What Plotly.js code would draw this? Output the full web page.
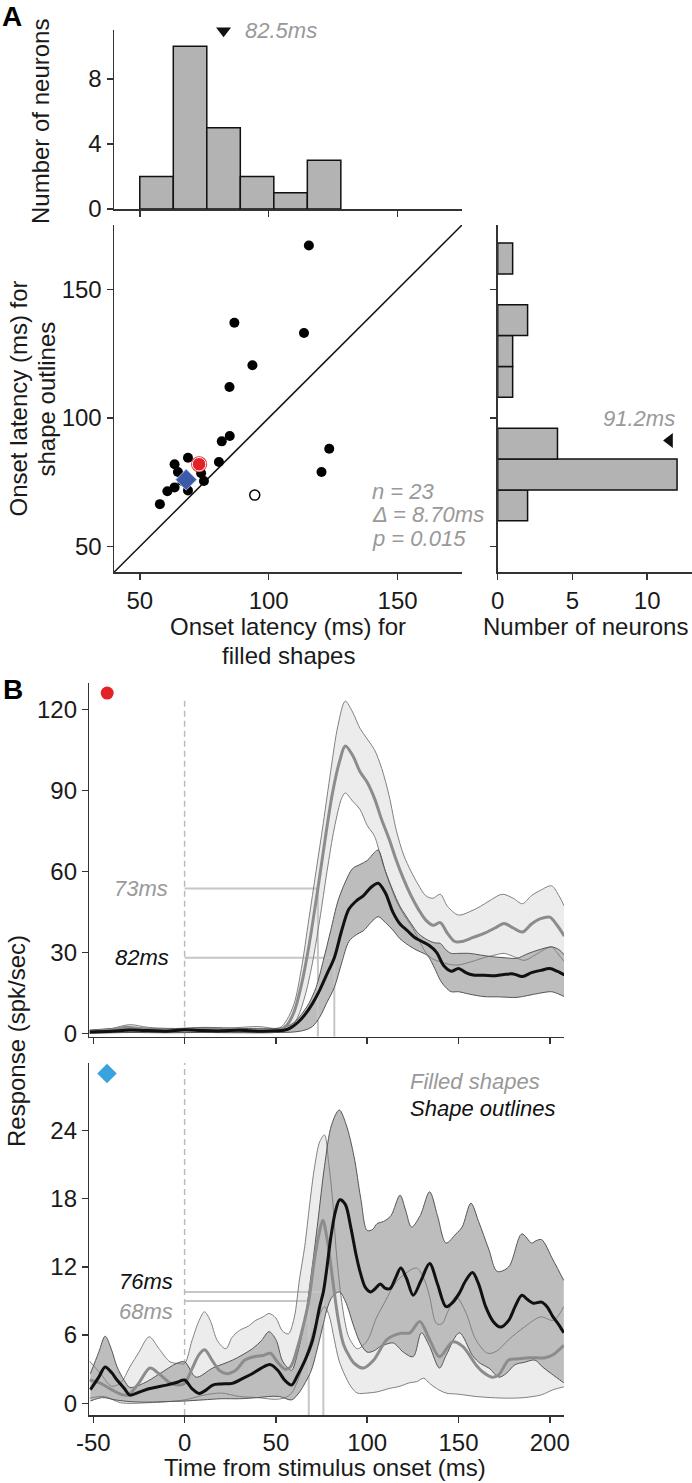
<!DOCTYPE html>
<html><head><meta charset="utf-8">
<script src="https://cdn.plot.ly/plotly-3.0.1.min.js"></script>
<style>html,body{margin:0;padding:0;background:#fff}#chart{width:692px;height:1483px}</style>
</head><body><div id="chart"></div>
<script>
// ---------------- Panel A data ----------------
const filledBinCenters = [56.5, 69.5, 82.5, 95.5, 108.5, 121.5];
const filledBinCounts = [2, 10, 5, 2, 1, 3];
const filledBinWidth = 13;
const outlineBinCenters = [66, 78, 90, 102, 114, 126, 138, 150, 162];
const outlineBinCounts = [2, 12, 4, 0, 1, 1, 2, 0, 1];
const outlineBinWidth = 12;
const filledMedian = 82.5;
const outlineMedian = 91.2;
const latFilled = [115.6, 86.7, 113.7, 93.7, 84.8, 84.9, 81.8, 123.5, 120.5, 80.7, 68.7, 63.5, 64.8, 74.9, 68.7, 63.5, 60.7, 57.8, 73.8, 66.5];
const latOutline = [167, 137, 133, 120.5, 112, 93, 90.9, 88, 79, 82.9, 84.5, 82, 79, 75.5, 71.8, 73, 71.5, 66.5, 78.5, 75.5];
const redNeuron = [73, 82];
const blueNeuron = [68, 76];
const openNeuron = [94.6, 70];
const statLines = ['n = 23', '\u0394 = 8.70ms', 'p = 0.015'];

// ---------------- Panel B data (top: red neuron) ----------------
const fmTopX = [-52,-40,-32,-25,-15,-5,5,15,25,35,45,52,56,60,64,68,73,77,81,85,88,92,96,100,104,108,112,116,120,124,128,132,136,140,144,148,152,158,164,170,175,180,185,190,195,200,204,208];
const fmTopY = [0.5,1.2,2.2,1.8,1.2,1.0,1.5,1.2,1.5,1.0,0.8,1.2,3,8,18,32,53.6,72,89,101,106.4,103,97,93,87,79,72,64,57,51,46,42,40,41,37,34,34,35.5,37,39,40.7,39,37.5,40.5,42.5,43,40,36];
const fuTopX = [-52,-40,-30,-20,-5,10,25,40,52,56,60,64,68,72,76,80,84,88,92,96,100,104,108,112,116,120,124,128,132,136,140,144,150,156,162,168,174,180,185,190,195,201,205,208];
const fuTopY = [1.0,1.8,3.2,2.2,1.8,2.2,2.0,2.5,2.0,5,11,24,42,60,78,97,114,123,119,113,109,105,98,88,75,66,60,55,51,50,51.5,47,43.8,45,47,49.5,51.5,50,48,51,53,54.6,51,47];
const flTopX = [-52,-30,-10,10,30,52,58,62,66,70,74,78,82,86,88,92,96,100,104,108,112,116,120,124,128,132,136,140,145,150,157,164,170,175,180,186,192,197,201,205,208];
const flTopY = [0.2,0.5,0.3,0.5,0.3,0.5,2,6,14,26,42,60,76,87,89,86,83,77,73,64,56,49,44,40,35,30,27.5,26.5,25.5,25.3,26.5,28,29,29.6,28.5,27,29,31,32,29,26.5];
const omTopX = [-52,-40,-30,-20,-10,0,10,20,30,40,50,55,58,62,66,70,74,78,82,86,90,94,98,102,106,110,114,118,122,126,130,134,138,142,146,150,154,158,164,170,175,180,185,190,195,200,204,208];
const omTopY = [0.5,0.8,1.2,1.0,0.8,1.3,1.0,0.9,1.1,0.8,0.9,1.2,2,4,7,11,16,22,28,38,46,49,51,54,55.6,52,45,40.5,38,35.5,34,32.5,30,25,23,24,22.5,21.6,21.5,21.3,21.8,22,21,22.5,23.3,24,23,21.6];
const ouTopX = [-52,-30,-10,10,30,50,56,60,64,68,72,76,80,84,88,92,96,100,104,106,110,114,118,124,128,133,137,140,143,146,150,156,162,168,175,182,188,194,201,205,208];
const ouTopY = [1.2,2.0,1.6,2.0,1.8,1.8,2.5,4,7,11,17,27,38,49,56,61,62.5,64,67,67.9,60,53,47,40.7,37,34.6,33.5,33.3,31,29.6,29.6,29.6,29,28.4,28,27.8,29.5,30.9,32,31,29];
const olTopX = [-52,-30,-10,10,30,50,60,66,70,74,78,82,86,90,94,98,102,106,110,114,118,124,128,133,137,140,143,146,150,156,164,172,182,188,194,201,205,208];
const olTopY = [0.0,0.3,0.2,0.3,0.2,0.3,0.5,1.2,2.5,6,11.5,17,26,34,36.5,38,41,43.2,41,38.3,35,32,30.5,28.8,24,19.7,17,15.4,15.4,14.5,13.6,13.5,13.3,14,14.8,15.4,14.5,13.6];

// ---------------- Panel B data (bottom: blue neuron) ----------------
const fmBotX = [-52,-46,-40,-35,-31,-25,-19,-14,-8,-3,0,4,8,11,15,19,23,28,33,38,43,47,51,55,58,62,66,68,71,73.5,75.7,78,81,84,87,90,93,98,103.6,110.8,118,123.4,128.8,134.2,139.6,146.8,152.3,159.5,163,168.5,172,177.5,182,188.3,193,197.3,202,207.7];
const fmBotY = [2.05,1.75,1.2,0.8,0.72,1.8,3.1,2.6,1.8,1.6,1.75,3,4.3,4.7,3.8,2.9,2.6,2.9,3.8,4.1,4.2,4.4,3.6,3,3.2,5,7.5,9,12.5,14.8,16.1,14.5,11,7.5,5.2,4.2,3.5,3.1,3.8,5.6,6.15,6.2,7.2,5.6,4.1,5.4,5,3.4,2.8,2.3,2.5,3.8,3.9,4,4,4,4.3,5.1];
const fuBotX = [-52,-46,-40,-35,-30,-25,-19.4,-14,-8,-3,0,4,8,10.9,14,18,22.6,26,30,35,39,43,46.2,50,53.4,56.8,60,63,65.8,68.5,71.2,74,76.6,79,81,83,85.6,88,90,94.6,100,105,110,115,120,127,131,134,138,141,144,148.6,154,159.5,166,171,177.5,186,195,202,207.7];
const fuBotY = [3.7,2.6,1.5,1.8,3.2,4.5,5.85,4.8,3.65,3.5,3.5,5.5,7.3,8.05,7.3,5.5,4.8,5.8,6.4,6.8,7.3,7.6,7.9,7.5,6.4,6.1,7.5,11,13.8,17.5,20.8,23,23.6,21,18,13.5,9.5,7,5.8,4.8,5.5,7.5,9,10.5,11.3,11.9,11,9.5,7,7,8,9.4,8,5.6,4.4,4.6,5.6,6.7,7.6,7.3,8.5];
const flBotX = [-52,-44,-35,-20,0,10,20,30,40,50,55,58.6,62,65.8,69,71.2,74,76.6,79,82,84.5,87.4,91,94.6,100,105.4,112,118,123,127,131,134.2,138,143.2,150,159.5,168,177.5,186,195.5,202,207.7];
const flBotY = [0.45,0.6,0.05,0.05,0.3,0.7,0.9,0.6,0.5,0.35,0.5,0.9,2,3.8,5.5,6.7,7.8,8.5,7.8,5.6,3.8,2.6,1.5,0.9,0.9,1.0,1.3,1.5,1.8,1.9,2.2,1.75,1.3,0.9,0.8,0.6,0.5,0.45,0.5,0.75,1.2,1.45];
const omBotX = [-51.6,-47,-43.5,-40,-37,-33,-30,-24.5,-19,-10,-4,0,4,8,12,15.4,20,26,32,37,42,47,51,55,58.6,62,66,70,74,76,78,80,82.5,85,88,91,94,96.4,99,101.8,104.5,107.2,110,112.6,115.5,118.4,121.5,125.2,129.5,134.2,138.5,143.2,147,150.5,154,157.7,161,164.9,169,173,177.5,181,184.7,188,191,195.5,198.5,201.8,205,207.7];
const omBotY = [1.2,2.3,3.2,2.7,2.05,1.3,0.72,1.0,1.3,1.6,1.85,2.05,1.3,0.87,1.2,1.6,1.7,1.75,2.2,2.6,3.1,3.4,2.9,2.0,1.6,2.5,3.8,5.5,8.5,9.8,12,14.5,16.8,17.9,17.5,15.5,13,11.4,10.2,9.8,10.1,10.5,10.1,10.1,11,11.9,11,9.5,10.8,12.3,10.5,8.5,8.9,9.7,10.8,11.5,10.5,8.5,7.2,6.7,7.3,8.5,9.5,9.1,8.8,8.9,8.5,7.6,6.9,6.2];
const ouBotX = [-51.6,-47,-43.5,-40,-37,-33,-30,-22.6,-13.6,-4.5,0,6.3,15.4,26.3,37.1,42,46.2,50,53.4,56,58.6,62,66,69.4,73,76.6,80.5,84.7,88.5,92.8,96.5,100,103,105.4,109,113,118,121,124.3,129,134.2,138.5,143.2,148.6,152,156.8,161,166.7,171.2,177.5,184.7,190.1,192.5,195.5,201.8,207.7];
const ouBotY = [2.6,4.5,5.9,4.7,3.2,2.0,1.4,1.75,2.6,3.5,3.65,2.3,3.1,3.8,4.8,5.5,6.3,5.6,3.8,3.2,2.9,4.5,7.5,11.4,16,20.8,24.5,25.8,24.5,21.7,18,15.2,15.3,15.8,16,16.5,18.3,17,15.5,16.5,18.6,16.5,14.1,14.9,15.5,17.6,16,13.5,11.6,12,14.9,14.1,14.3,14.4,12.6,10.8];
const olBotX = [-51.6,-45,-38,-30,-20,-10,0,10,20,30,40,46,52,58.6,63,66,69.4,73,76,78.4,81,84.7,88,92.8,96.5,100,103.5,107.2,110.5,114.4,119.8,125.2,129.7,134.2,139.6,143.2,150.5,157.7,162,166.7,172.1,176,181,186,191.9,196,200.9,207.7];
const olBotY = [0.2,0.5,0.3,0.15,0.1,0.15,0.2,0.3,0.4,0.4,0.5,0.6,0.6,0.3,1.0,1.8,2.9,5,7,8.5,9.4,9.8,9.0,6.7,5.2,4.5,4.6,5,5.2,5.3,4.5,4.1,6.2,5,3.1,4.2,6.2,4.2,3.5,3.1,2.3,2.6,3.4,3.6,3.8,3.2,2.6,1.8];

// onset latencies [red neuron, blue neuron] and criterion response levels
const onsetFilled = [73, 68];
const onsetOutline = [82, 76];
const critFilled = [53.6, 9.0];
const critOutline = [28, 9.8];

const timeTicks = [-50, 0, 50, 100, 150, 200];
const timeTickText = ['-50', '0', '50', '100', '150', '200'];

// ---------------- styling / helpers ----------------
const FF = 'Liberation Sans, Arial, Helvetica, sans-serif';
const W = 692, H = 1483;
const px = v => v / W, py = v => 1 - v / H;
const LIGHT_FILL = '#ececec', DARK_FILL = '#bdbdbd';
const LIGHT_EDGE = '#808080', DARK_EDGE = '#555555';

function ln(xa, ya, x, y, color, width, extra) {
  return Object.assign({type: 'scatter', mode: 'lines', x: x, y: y, xaxis: xa, yaxis: ya,
    line: {color: color, width: width, shape: 'spline', smoothing: 0.9},
    hoverinfo: 'skip', showlegend: false}, extra || {});
}
function band(xa, ya, lx, ly, ux, uy, fill) {
  return [
    ln(xa, ya, lx, ly, 'rgba(0,0,0,0)', 0),
    ln(xa, ya, ux, uy, 'rgba(0,0,0,0)', 0, {fill: 'tonexty', fillcolor: fill})
  ];
}

const traces = [];
// Top histogram
traces.push({type: 'bar', x: filledBinCenters, y: filledBinCounts, width: filledBinWidth,
  xaxis: 'x', yaxis: 'y', marker: {color: '#b3b3b3', line: {color: '#111', width: 1.5}},
  hoverinfo: 'skip', showlegend: false});
traces.push({type: 'scatter', mode: 'markers', x: [filledMedian], y: [10.95], xaxis: 'x', yaxis: 'y',
  marker: {symbol: 'triangle-down', size: 13, color: '#111'}, cliponaxis: false, hoverinfo: 'skip', showlegend: false});
// Right histogram
traces.push({type: 'bar', orientation: 'h', x: outlineBinCounts.map(c => c || null), y: outlineBinCenters,
  width: outlineBinWidth, xaxis: 'x3', yaxis: 'y3',
  marker: {color: '#b3b3b3', line: {color: '#111', width: 1.5}}, hoverinfo: 'skip', showlegend: false});
traces.push({type: 'scatter', mode: 'markers', x: [11.5], y: [outlineMedian], xaxis: 'x3', yaxis: 'y3',
  marker: {symbol: 'triangle-left', size: 13, color: '#111'}, cliponaxis: false, hoverinfo: 'skip', showlegend: false});
// Scatter
traces.push({type: 'scatter', mode: 'lines', x: [40, 175], y: [40, 175], xaxis: 'x2', yaxis: 'y2',
  line: {color: '#111', width: 1.5}, hoverinfo: 'skip', showlegend: false});
traces.push({type: 'scatter', mode: 'markers', x: latFilled, y: latOutline, xaxis: 'x2', yaxis: 'y2',
  marker: {size: 10, color: '#000'}, hoverinfo: 'skip', showlegend: false});
traces.push({type: 'scatter', mode: 'markers', x: [openNeuron[0]], y: [openNeuron[1]], xaxis: 'x2', yaxis: 'y2',
  marker: {size: 10, color: '#fff', line: {color: '#000', width: 1.5}}, hoverinfo: 'skip', showlegend: false});
traces.push({type: 'scatter', mode: 'markers', x: [redNeuron[0]], y: [redNeuron[1]], xaxis: 'x2', yaxis: 'y2',
  marker: {size: 16, color: '#e32228'}, hoverinfo: 'skip', showlegend: false});
traces.push({type: 'scatter', mode: 'markers', x: [redNeuron[0]], y: [redNeuron[1]], xaxis: 'x2', yaxis: 'y2',
  marker: {size: 13.5, color: '#e32228', line: {color: '#fff', width: 1}}, hoverinfo: 'skip', showlegend: false});
traces.push({type: 'scatter', mode: 'markers', x: [blueNeuron[0]], y: [blueNeuron[1]], xaxis: 'x2', yaxis: 'y2',
  marker: {symbol: 'diamond', size: 16, color: '#3d5aa8', line: {color: '#a3b4e2', width: 1}}, hoverinfo: 'skip', showlegend: false});

// Panel B
function panelB(xa, ya, d, k, yTop) {
  band(xa, ya, d.flx, d.fly, d.fux, d.fuy, LIGHT_FILL).forEach(t => traces.push(t));
  band(xa, ya, d.olx, d.oly, d.oux, d.ouy, DARK_FILL).forEach(t => traces.push(t));
  const thr = {line: {color: '#c6c6c6', width: 2}};
  traces.push(ln(xa, ya, [0, onsetFilled[k]], [critFilled[k], critFilled[k]], '', 2, thr));
  traces.push(ln(xa, ya, [onsetFilled[k], onsetFilled[k]], [d.ymin, critFilled[k]], '', 2, thr));
  traces.push(ln(xa, ya, [0, onsetOutline[k]], [critOutline[k], critOutline[k]], '', 2, thr));
  traces.push(ln(xa, ya, [onsetOutline[k], onsetOutline[k]], [d.ymin, critOutline[k]], '', 2, thr));
  traces.push(ln(xa, ya, [0, 0], [d.ymin, yTop], '', 1.5, {line: {color: '#bbbbbb', width: 1.5, dash: '6px,4px'}}));
  traces.push(ln(xa, ya, d.flx, d.fly, LIGHT_EDGE, 1));
  traces.push(ln(xa, ya, d.fux, d.fuy, LIGHT_EDGE, 1));
  traces.push(ln(xa, ya, d.olx, d.oly, DARK_EDGE, 1));
  traces.push(ln(xa, ya, d.oux, d.ouy, DARK_EDGE, 1));
  traces.push(ln(xa, ya, d.fmx, d.fmy, '#8c8c8c', 3));
  traces.push(ln(xa, ya, d.omx, d.omy, '#111111', 3));
}
panelB('x4', 'y4', {flx: flTopX, fly: flTopY, fux: fuTopX, fuy: fuTopY, olx: olTopX, oly: olTopY,
  oux: ouTopX, ouy: ouTopY, fmx: fmTopX, fmy: fmTopY, omx: omTopX, omy: omTopY, ymin: -1.26}, 0, 124.4);
panelB('x5', 'y5', {flx: flBotX, fly: flBotY, fux: fuBotX, fuy: fuBotY, olx: olBotX, oly: olBotY,
  oux: ouBotX, ouy: ouBotY, fmx: fmBotX, fmy: fmBotY, omx: omBotX, omy: omBotY, ymin: -1.03}, 1, 29.96);
traces.push({type: 'scatter', mode: 'markers', x: [-42.4], y: [126], xaxis: 'x4', yaxis: 'y4',
  marker: {size: 13, color: '#e32228'}, cliponaxis: false, hoverinfo: 'skip', showlegend: false});
traces.push({type: 'scatter', mode: 'markers', x: [-42.5], y: [29], xaxis: 'x5', yaxis: 'y5',
  marker: {symbol: 'diamond', size: 15, color: '#3aa3de'}, cliponaxis: false, hoverinfo: 'skip', showlegend: false});

function ax(extra) {
  return Object.assign({showline: true, linecolor: '#333', linewidth: 1.5, ticks: 'outside', ticklen: 6,
    tickwidth: 1.5, tickcolor: '#333', showgrid: false, zeroline: false, fixedrange: true,
    tickfont: {size: 24, color: '#1a1a1a', family: FF}, tickmode: 'array'}, extra);
}
const xA = [px(114), px(462)];
const yScat = [py(572.3), py(225)];
const xB = [px(89.3), px(564)];

function ann(x, y, text, o) {
  return Object.assign({xref: 'paper', yref: 'paper', x: px(x), y: py(y), text: text, showarrow: false,
    xanchor: 'center', yanchor: 'middle', font: {size: 24, color: '#1a1a1a', family: FF}}, o || {});
}
const gray = '#999999';
const annotations = [
  ann(12, 17, '<b>A</b>', {font: {size: 28, color: '#000', family: FF}}),
  ann(13, 690, '<b>B</b>', {font: {size: 28, color: '#000', family: FF}}),
  ann(40, 122, 'Number of neurons', {textangle: -90}),
  ann(18, 398.5, 'Onset latency (ms) for', {textangle: -90}),
  ann(46, 398.5, 'shape outlines', {textangle: -90}),
  ann(288, 626, 'Onset latency (ms) for'),
  ann(288, 655, 'filled shapes'),
  ann(585, 626, 'Number of neurons'),
  ann(16, 1041, 'Response (spk/sec)', {textangle: -90}),
  ann(325, 1467, 'Time from stimulus onset (ms)'),
  {xref: 'x', yref: 'y', x: 90, y: 10.95, xanchor: 'left', yanchor: 'middle', showarrow: false,
    text: '<i>' + filledMedian + 'ms</i>', font: {size: 22, color: gray, family: FF}},
  {xref: 'x3', yref: 'y3', x: 12, y: 99.6, xanchor: 'right', yanchor: 'middle', showarrow: false,
    text: '<i>' + outlineMedian + 'ms</i>', font: {size: 22, color: gray, family: FF}},
  {xref: 'x4', yref: 'y4', x: 0, y: critFilled[0], xshift: -15, xanchor: 'right', yanchor: 'middle', showarrow: false,
    text: '<i>' + onsetFilled[0] + 'ms</i>', font: {size: 22, color: gray, family: FF}},
  {xref: 'x4', yref: 'y4', x: 0, y: critOutline[0], xshift: -14, xanchor: 'right', yanchor: 'middle', showarrow: false,
    text: '<i>' + onsetOutline[0] + 'ms</i>', font: {size: 22, color: '#111', family: FF}},
  {xref: 'x5', yref: 'y5', x: 0, y: critOutline[1], xshift: -10, yshift: 10, xanchor: 'right', yanchor: 'middle', showarrow: false,
    text: '<i>' + onsetOutline[1] + 'ms</i>', font: {size: 22, color: '#111', family: FF}},
  {xref: 'x5', yref: 'y5', x: 0, y: critFilled[1], xshift: -10, yshift: -11, xanchor: 'right', yanchor: 'middle', showarrow: false,
    text: '<i>' + onsetFilled[1] + 'ms</i>', font: {size: 22, color: gray, family: FF}},
  {xref: 'x5', yref: 'y5', x: 122.3, y: 28.3, xanchor: 'left', yanchor: 'middle', showarrow: false,
    text: '<i>Filled shapes</i>', font: {size: 22, color: gray, family: FF}},
  {xref: 'x5', yref: 'y5', x: 122.3, y: 25.9, xanchor: 'left', yanchor: 'middle', showarrow: false,
    text: '<i>Shape outlines</i>', font: {size: 22, color: '#111', family: FF}}
];
const statY = [71.4, 62.3, 53.3];
statLines.forEach((s, i) => annotations.push({xref: 'x2', yref: 'y2', x: 139.5, y: statY[i], xanchor: 'left',
  yanchor: 'middle', showarrow: false, text: '<i>' + s + '</i>', font: {size: 22, color: gray, family: FF}}));

const layout = {
  width: W, height: H, margin: {l: 0, r: 0, t: 0, b: 0}, paper_bgcolor: '#fff', plot_bgcolor: 'rgba(0,0,0,0)',
  showlegend: false, hovermode: false, font: {family: FF},
  xaxis: ax({domain: xA, range: [40, 175], anchor: 'y', tickvals: [50, 100, 150], showticklabels: false}),
  yaxis: ax({domain: [py(209), py(30)], range: [0, 11], anchor: 'x', tickvals: [0, 4, 8]}),
  xaxis2: ax({domain: xA, range: [40, 175], anchor: 'y2', tickvals: [50, 100, 150]}),
  yaxis2: ax({domain: yScat, range: [40, 175], anchor: 'x2', tickvals: [50, 100, 150]}),
  xaxis3: ax({domain: [px(497.7), 1], range: [0, 13], anchor: 'y3', tickvals: [0, 5, 10]}),
  yaxis3: ax({domain: yScat, range: [40, 175], anchor: 'x3', tickvals: [50, 100, 150], showticklabels: false}),
  xaxis4: ax({domain: xB, range: [-52.2, 207.8], anchor: 'y4', tickvals: timeTicks, showticklabels: false}),
  yaxis4: ax({domain: [py(1036.7), py(682.7)], range: [-1.26, 129.85], anchor: 'x4', tickvals: [0, 30, 60, 90, 120]}),
  xaxis5: ax({domain: xB, range: [-52.2, 207.8], anchor: 'y5', tickvals: timeTicks, ticktext: timeTickText}),
  yaxis5: ax({domain: [py(1415), py(1062.7)], range: [-1.03, 29.96], anchor: 'x5', tickvals: [0, 6, 12, 18, 24]}),
  annotations: annotations
};
Plotly.newPlot('chart', traces, layout, {staticPlot: true, displayModeBar: false});
</script></body></html>
